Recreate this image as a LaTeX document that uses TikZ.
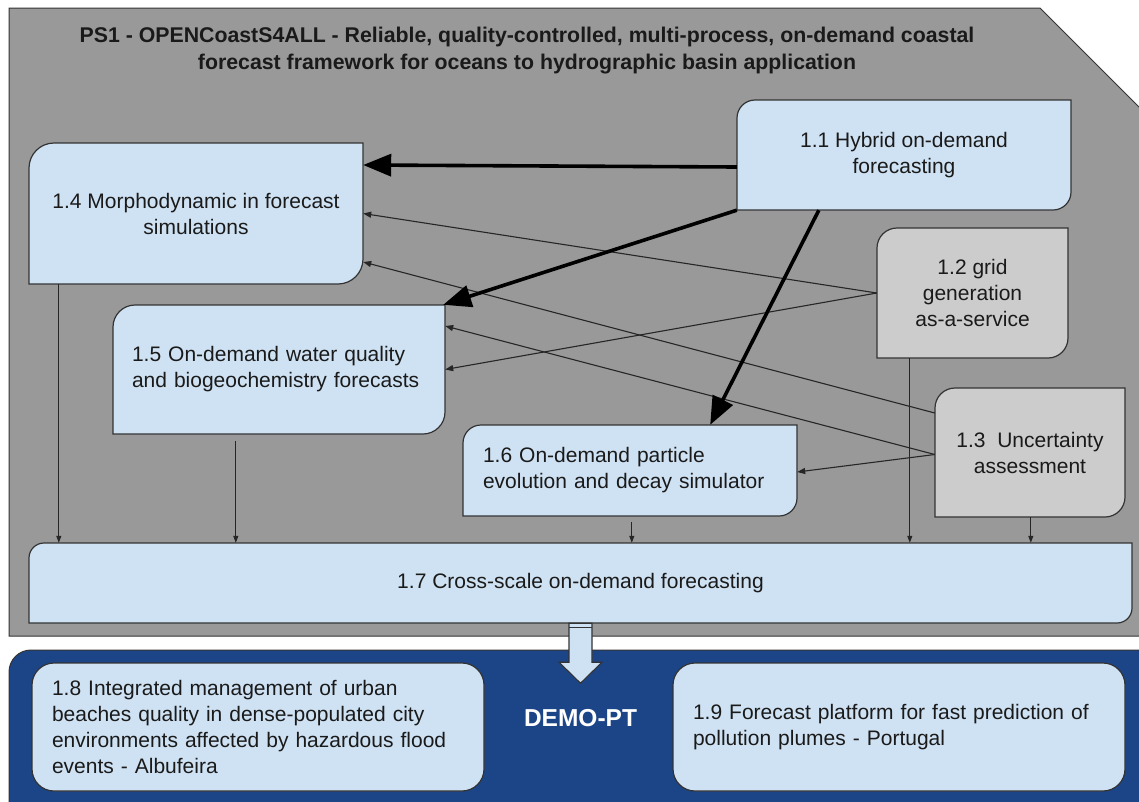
\documentclass[tikz,border=0pt]{standalone}
\usepackage{fontspec}
\setmainfont{Liberation Sans}
\usetikzlibrary{arrows.meta}
\definecolor{panelgray}{HTML}{999999}
\definecolor{lblue}{HTML}{CFE2F3}
\definecolor{lgray}{HTML}{CCCCCC}
\definecolor{dblue}{HTML}{1C4587}
\definecolor{edgec}{HTML}{333333}
\definecolor{txtc}{HTML}{1A1A1A}
\tikzset{
  boxline/.style={draw=edgec, line width=1.2pt},
  lbl/.style={font=\fontsize{21}{26}\selectfont, text=txtc, inner sep=0pt, align=center},
  lbll/.style={font=\fontsize{21}{26}\selectfont, text=txtc, inner ysep=0pt, inner xsep=20pt, align=left},
  thickarr/.style={draw=black, line width=3.6pt, -{Triangle[length=28pt,width=22pt]}},
  thinarr/.style={draw=black!85, line width=1.1pt, -{Triangle[length=8pt,width=6pt]}},
  droparr/.style={draw=black!85, line width=1pt, -{Triangle[length=7pt,width=5pt]}},
}
% diagonal-rounded box: x1,y1,x2,y2,r,fill (image coordinates, y down)
\newcommand{\dgbox}[6]{%
  \draw[boxline, fill=#6] (#1,#4) -- (#1,#2+#5)
    arc[start angle=180,end angle=270,radius=#5] -- (#3,#2) -- (#3,#4-#5)
    arc[start angle=0,end angle=90,radius=#5] -- cycle;}
\begin{document}
\begin{tikzpicture}[x=1pt,y=-1pt]
\useasboundingbox (0,0) rectangle (1139,801);
\clip (0,0) rectangle (1139,801);
\fill[white] (0,0) rectangle (1139,801);
% outer grey panel
\draw[boxline, line width=1pt, fill=panelgray] (9,636) -- (9,8) -- (1040,8) -- (1150,118) -- (1150,636) -- cycle;
% bottom blue panel
\draw[boxline, line width=1pt, fill=dblue] (9,820) -- (9,672) arc[start angle=180,end angle=270,radius=22] -- (1150,650) -- (1150,820) -- cycle;
% title
\node[lbl, font=\fontsize{21.3}{27}\selectfont\bfseries] (title) at (527,50.5)
  {PS1 - OPENCoastS4ALL - Reliable, quality-controlled, multi-process, on-demand coastal\\
   forecast framework for oceans to hydrographic basin application};
% boxes
\dgbox{737}{100}{1071}{210}{18}{lblue}
\node[lbl, minimum width=334pt, minimum height=110pt] (n11) at (904,155) {1.1 Hybrid on-demand\\forecasting};
\dgbox{29}{143}{363}{284}{25}{lblue}
\node[lbl, minimum width=334pt, minimum height=141pt] (n14) at (196,213.5) {1.4 Morphodynamic in forecast\\simulations};
\dgbox{113}{305}{445}{434}{22}{lblue}
\node[lbll, inner xsep=19pt, text width=294pt, minimum height=129pt] (n15) at (279,369.5) {1.5 On-demand water quality\\and biogeochemistry forecasts};
\dgbox{463}{425}{797}{516}{18}{lblue}
\node[lbll, text width=294pt, minimum height=91pt] (n16) at (630,470.5) {1.6 On-demand particle\\evolution and decay simulator};
\dgbox{877}{228}{1068}{358}{20}{lgray}
\node[lbl, minimum width=191pt, minimum height=130pt] (n12) at (972.5,293) {1.2 grid\\generation\\as-a-service};
\dgbox{935}{388}{1125}{517}{20}{lgray}
\node[lbl, minimum width=190pt, minimum height=129pt] (n13) at (1030,452.5) {1.3\ \ Uncertainty\\assessment};
\dgbox{29}{543}{1132}{623}{15}{lblue}
\node[lbl, minimum width=1103pt, minimum height=80pt] (n17) at (580.5,583) {1.7 Cross-scale on-demand forecasting};
% demo boxes
\draw[boxline, fill=lblue, rounded corners=22pt] (32,663) rectangle (484,791);
\node[lbll, text width=412pt, minimum height=128pt] (n18) at (258,727) {1.8 Integrated management of urban\\beaches quality in dense-populated city\\environments affected by hazardous flood\\events - Albufeira};
\draw[boxline, fill=lblue, rounded corners=22pt] (673,663) rectangle (1125,791);
\node[lbll, text width=412pt, minimum height=128pt] (n19) at (899,727) {1.9 Forecast platform for fast prediction of\\pollution plumes - Portugal};
\node[lbl, font=\fontsize{24.5}{28}\selectfont\bfseries, text=white] (demo) at (580.5,718) {DEMO-PT};
% thin connectors
\draw[thinarr] (n12.west) -- (n14.east);
\draw[thinarr] (n12.west) -- (n15.east);
\draw[thinarr] ([yshift=39.5pt]n13.west) -- ([yshift=-48.5pt]n14.east);
\draw[thinarr] ([yshift=-2pt]n13.west) -- ([yshift=43.5pt]n15.east);
\draw[thinarr] ([yshift=-2pt]n13.west) -- ([yshift=-1.5pt]n16.east);
% thick connectors
\draw[thickarr] ([yshift=-12pt]n11.west) -- ([yshift=48.5pt]n14.east);
\draw[thickarr] (n11.south west) -- ([xshift=-2pt]n15.north east);
\draw[thickarr] ([xshift=82pt]n11.south west) -- ([xshift=-87pt]n16.north east);
% drops into 1.7
\draw[droparr] ([xshift=30pt]n14.south west) -- ([xshift=30pt]n14.south west |- n17.north);
\draw[droparr] ([xshift=123pt,yshift=-7pt]n15.south west) -- ([xshift=123pt]n15.south west |- n17.north);
\draw[droparr] ([xshift=169pt,yshift=-6pt]n16.south west) -- ([xshift=169pt]n16.south west |- n17.north);
\draw[droparr] ([xshift=33pt]n12.south west) -- ([xshift=33pt]n12.south west |- n17.north);
\draw[droparr] ([xshift=96pt]n13.south west) -- ([xshift=96pt]n13.south west |- n17.north);
% block arrow 1.7 -> DEMO
\begin{scope}[shift={(n17.south)}]
\draw[boxline, line width=1.1pt, fill=lblue, line join=miter] (-11.5,0) -- (11.5,0) -- (11.5,39) -- (21.5,39) -- (0,60) -- (-21.5,39) -- (-11.5,39) -- cycle;
\draw[edgec, line width=1.2pt] (-11.5,4) -- (11.5,4);
\end{scope}
\end{tikzpicture}
\end{document}
